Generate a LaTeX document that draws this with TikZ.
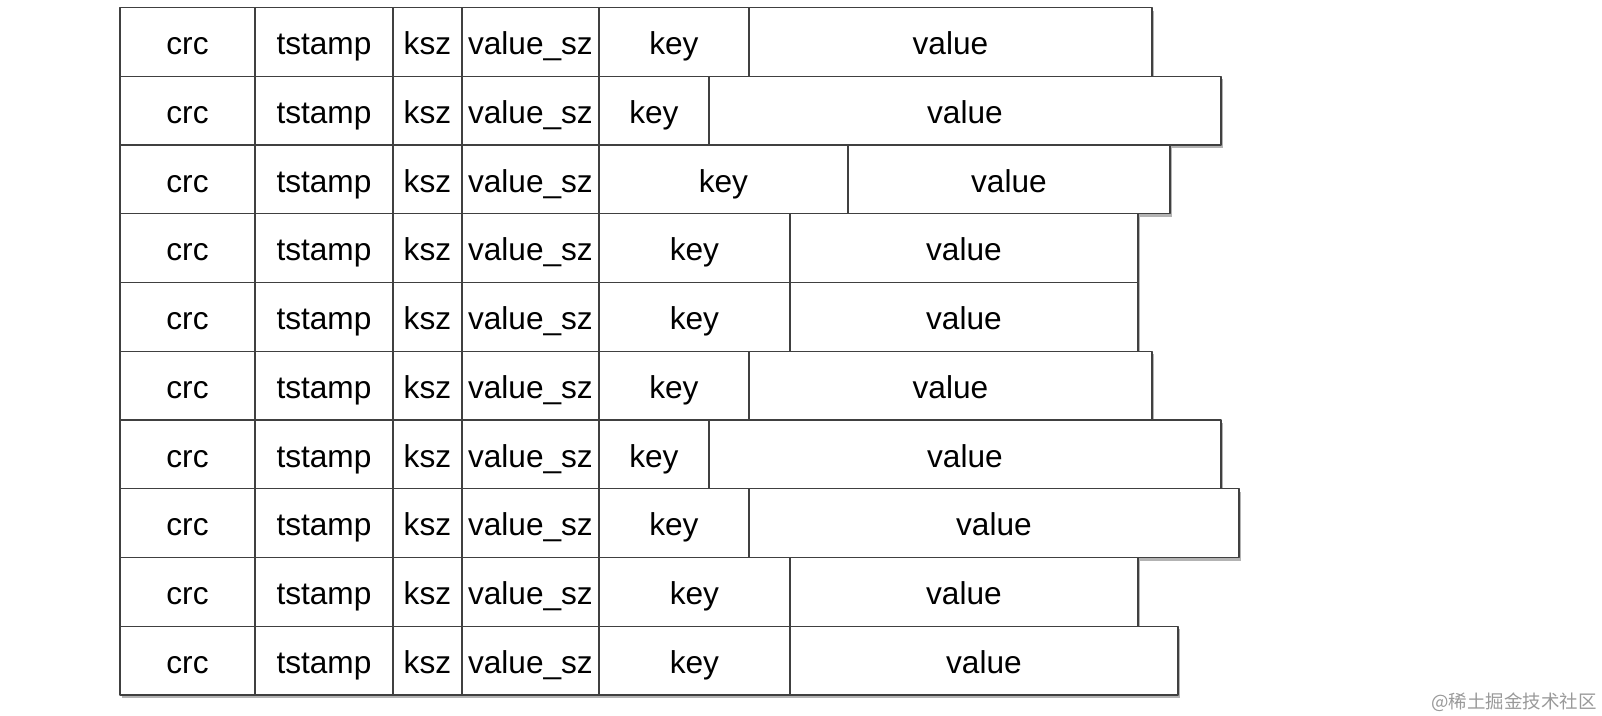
\documentclass[tikz,border=0pt]{standalone}
\usepackage{fontspec}
\setmainfont{Liberation Sans}
\newfontfamily\cjkfont{Noto Sans CJK SC}
\usetikzlibrary{positioning}
\usetikzlibrary{shadows}

\begin{document}
\begin{tikzpicture}[line cap=round,line join=round,x=0.02cm,y=-0.02cm,
  cell/.style={draw=black!75,line width=0.7pt,fill=white,inner sep=0pt,outer sep=0pt,
    minimum height=1.375cm,text height=17pt,text depth=2.6pt,font=\fontsize{18}{20}\selectfont,
    drop shadow={shadow xshift=1.4pt,shadow yshift=-1.8pt,opacity=0.6}},
  wmark/.style={text=black!40,inner sep=0pt,font=\cjkfont\fontsize{10.5}{12}\selectfont}]
\useasboundingbox (0,0) rectangle (1602,716);
\foreach \i/\kx/\rx in {1/749/1152,2/709/1221,3/848/1170,4/790/1138,5/790/1138,
    6/749/1152,7/709/1221,8/749/1239,9/790/1138,10/790/1178}{
  \pgfmathsetmacro\rowy{7.5+68.75*(\i-1)}
  \pgfmathsetmacro\kw{(\kx-599)*0.02}
  \pgfmathsetmacro\vw{(\rx-\kx)*0.02}
  \node[cell,anchor=north west,minimum width=2.7cm] (crc\i) at (120,\rowy) {crc};
  \node[cell,minimum width=2.76cm,right=0pt of crc\i] (tstamp\i) {tstamp};
  \node[cell,minimum width=1.38cm,right=0pt of tstamp\i] (ksz\i) {ksz};
  \node[cell,minimum width=2.74cm,right=0pt of ksz\i] (vsz\i) {value\_sz};
  \node[cell,minimum width=\kw cm,right=0pt of vsz\i] (key\i) {key};
  \node[cell,minimum width=\vw cm,right=0pt of key\i] (value\i) {value};
}
\node[wmark] (mark) at (1514,702) {@稀土掘金技术社区};
\end{tikzpicture}
\end{document}
